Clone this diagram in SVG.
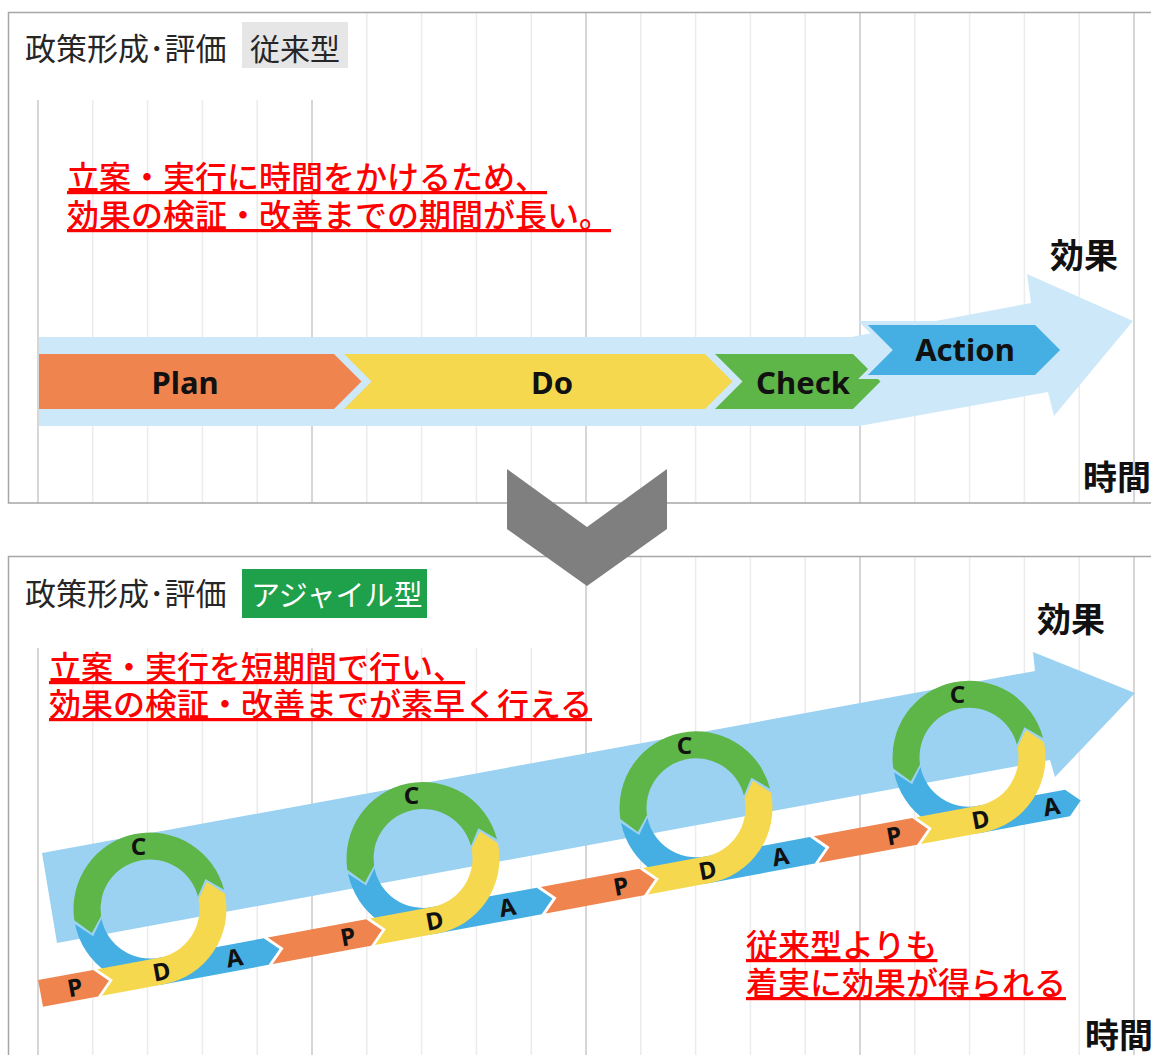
<svg xmlns="http://www.w3.org/2000/svg" xmlns:xlink="http://www.w3.org/1999/xlink" width="1151" height="1055" viewBox="0 0 1151 1055">
<style>
.gmin{stroke:#ececec;stroke-width:1.5;fill:none}
.gmaj{stroke:#d6d6d6;stroke-width:2;fill:none}
.frame{fill:none;stroke:#a6a6a6;stroke-width:1.5}
.hdr{font-family:"Noto Sans CJK JP","Noto Sans",sans-serif;font-size:31px;fill:#262626}
.red{font-family:"Noto Sans CJK JP",sans-serif;font-size:32px;font-weight:500;fill:#ff0000;text-decoration:underline}
.axis{font-family:"Noto Sans CJK JP",sans-serif;font-size:34px;font-weight:700;fill:#111}
.step{font-family:"Noto Sans","Noto Sans CJK JP",sans-serif;font-size:31px;font-weight:700;fill:#111;text-anchor:middle}
.let{font-family:"Noto Sans",sans-serif;font-size:24px;font-weight:700;fill:#111;text-anchor:middle}
.or{fill:#ef844e}.ye{fill:#f5d84e}.gr{fill:#5eb548}.bl{fill:#45aee2}
</style>
<defs>
<path id="pFirst" d="M-123,49.5 L-67,49.5 L-53.5,63 L-67,76.5 L-123,76.5 Z"/>
<path id="pNext" d="M-167,49.5 L-67,49.5 L-53.5,63 L-67,76.5 L-167,76.5 L-153.5,63 Z"/>
<path id="ringA" d="M-76.49,1.34 A76.5,76.5 0 0 0 0,76.5 L106.5,76.5 L120,63 L106.5,49.5 L0,49.5 A49.5,49.5 0 0 1 -49.49,0.86 L-60.85,16.31 Z"/>
<path id="ringAlast" d="M-76.49,1.34 A76.5,76.5 0 0 0 0,76.5 L88.5,76.5 L102,63 L88.5,49.5 L0,49.5 A49.5,49.5 0 0 1 -49.49,0.86 L-60.85,16.31 Z"/>
<path id="ringD" d="M-63,49.5 L-49.5,63 L-63,76.5 L0,76.5 A76.5,76.5 0 0 0 76.49,-1.34 L60.85,-16.31 L49.49,-0.86 A49.5,49.5 0 0 1 0,49.5 Z"/>
<path id="ringC" d="M76.31,-5.34 A76.5,76.5 0 0 0 -76.45,-2.67 L-61.62,13.1 L-49.47,-1.73 A49.5,49.5 0 0 1 49.38,-3.45 L59.92,-19.47 Z"/>
</defs>
<rect width="1151" height="1055" fill="#fff"/>

<g id="panel-top">
<path class="gmin" d="M92.8,12V503M147.6,12V503M202.4,12V503M257.2,12V503M366.8,12V503M421.6,12V503M476.4,12V503M531.2,12V503M640.8,12V503M695.6,12V503M750.4,12V503M805.2,12V503M914.8,12V503M969.6,12V503M1024.4,12V503M1079.2,12V503"/>
<path class="gmaj" d="M38,12V503M312,12V503M586,12V503M860,12V503M1134,12V503"/>
<rect x="8" y="12" width="356" height="88" fill="#fff"/>
<rect class="frame" x="8.5" y="12.5" width="1200" height="490.5"/>
<text class="hdr" x="25" y="60">政策形成･評価</text>
<rect x="242" y="22" width="106" height="46" fill="#e6e6e6"/>
<text class="hdr" x="250" y="60" style="font-size:30px">従来型</text>
<text class="red" x="67" y="189">立案・実行に時間をかけるため、</text>
<text class="red" x="67" y="227">効果の検証・改善までの期間が長い。</text>
<text class="axis" x="1050" y="268">効果</text>
<text class="axis" x="1083" y="490">時間</text>
<polygon id="band-top" fill="#cde8f8" points="39,337 851,337 1031,303 1027,274 1133,321 1054,416 1048,392 859,426 39,426"/>
<g id="step-plan"><polygon class="or" points="39,354 334,354 361.5,381.5 334,409 39,409"/><text class="step" x="185" y="394">Plan</text></g>
<g id="step-do"><polygon class="ye" points="344,354 705,354 732.5,381.5 705,409 344,409 371.5,381.5"/><text class="step" x="552" y="394">Do</text></g>
<g id="step-check"><polygon class="gr" points="715,354 853,354 880.5,381.5 853,409 715,409 742.5,381.5"/><text class="step" x="803" y="394">Check</text></g>
<g id="step-action"><polygon class="bl" stroke="#cde8f8" stroke-width="4" stroke-linejoin="miter" points="863,323 1036,323 1063,350 1036,377 863,377 890,350"/><text class="step" x="965" y="361">Action</text></g>
</g>

<g id="panel-bottom">
<path class="gmin" d="M92.8,556V1055M147.6,556V1055M202.4,556V1055M257.2,556V1055M366.8,556V1055M421.6,556V1055M476.4,556V1055M531.2,556V1055M640.8,556V1055M695.6,556V1055M750.4,556V1055M805.2,556V1055M914.8,556V1055M969.6,556V1055M1024.4,556V1055M1079.2,556V1055"/>
<path class="gmaj" d="M38,556V1055M312,556V1055M586,556V1055M860,556V1055M1134,556V1055"/>
<rect x="8" y="556" width="574" height="92" fill="#fff"/>
<rect class="frame" x="8.5" y="556.5" width="1200" height="600"/>
<text class="hdr" x="25" y="605">政策形成･評価</text>
<rect x="242" y="569" width="185" height="49" fill="#1fa04b"/>
<text class="hdr" x="251" y="606" style="font-size:29px;fill:#fff">アジャイル型</text>
<text class="red" x="49" y="679">立案・実行を短期間で行い、</text>
<text class="red" x="49" y="716">効果の検証・改善までが素早く行える</text>
<text class="axis" x="1037" y="632">効果</text>
<text class="axis" x="1085" y="1048">時間</text>
<polygon id="band-bottom" fill="#9bd2f2" points="42,853 1035,671 1033,652 1135,693 1055,777 1050,760 57,943"/>
<g id="cycle-1" transform="translate(150,909) rotate(-10.5)">
<use href="#pFirst" class="or"/><use href="#ringA" class="bl"/><use href="#ringD" class="ye"/><use href="#ringC" class="gr"/>
<text class="let" x="-88" y="72">P</text><text class="let" x="0" y="72">D</text><text class="let" x="74" y="72">A</text><text class="let" transform="translate(0,-63) rotate(10.5)" y="8">C</text>
</g>
<g id="cycle-2" transform="translate(423,858.4) rotate(-10.5)">
<use href="#pNext" class="or"/><use href="#ringA" class="bl"/><use href="#ringD" class="ye"/><use href="#ringC" class="gr"/>
<text class="let" x="-88" y="72">P</text><text class="let" x="0" y="72">D</text><text class="let" x="74" y="72">A</text><text class="let" transform="translate(0,-63) rotate(10.5)" y="8">C</text>
</g>
<g id="cycle-3" transform="translate(696,807.8) rotate(-10.5)">
<use href="#pNext" class="or"/><use href="#ringA" class="bl"/><use href="#ringD" class="ye"/><use href="#ringC" class="gr"/>
<text class="let" x="-88" y="72">P</text><text class="let" x="0" y="72">D</text><text class="let" x="74" y="72">A</text><text class="let" transform="translate(0,-63) rotate(10.5)" y="8">C</text>
</g>
<g id="cycle-4" transform="translate(969,757.2) rotate(-10.5)">
<use href="#pNext" class="or"/><use href="#ringAlast" class="bl"/><use href="#ringD" class="ye"/><use href="#ringC" class="gr"/>
<text class="let" x="-88" y="72">P</text><text class="let" x="0" y="72">D</text><text class="let" x="72" y="72">A</text><text class="let" transform="translate(0,-63) rotate(10.5)" y="8">C</text>
</g>
<text class="red" x="746" y="957">従来型よりも</text>
<text class="red" x="746" y="995">着実に効果が得られる</text>
</g>

<g id="connectors">
<polygon id="transition-arrow" fill="#7f7f7f" points="507,469 587,527 667,469 667,529 587,586 507,529"/>
</g>
</svg>
